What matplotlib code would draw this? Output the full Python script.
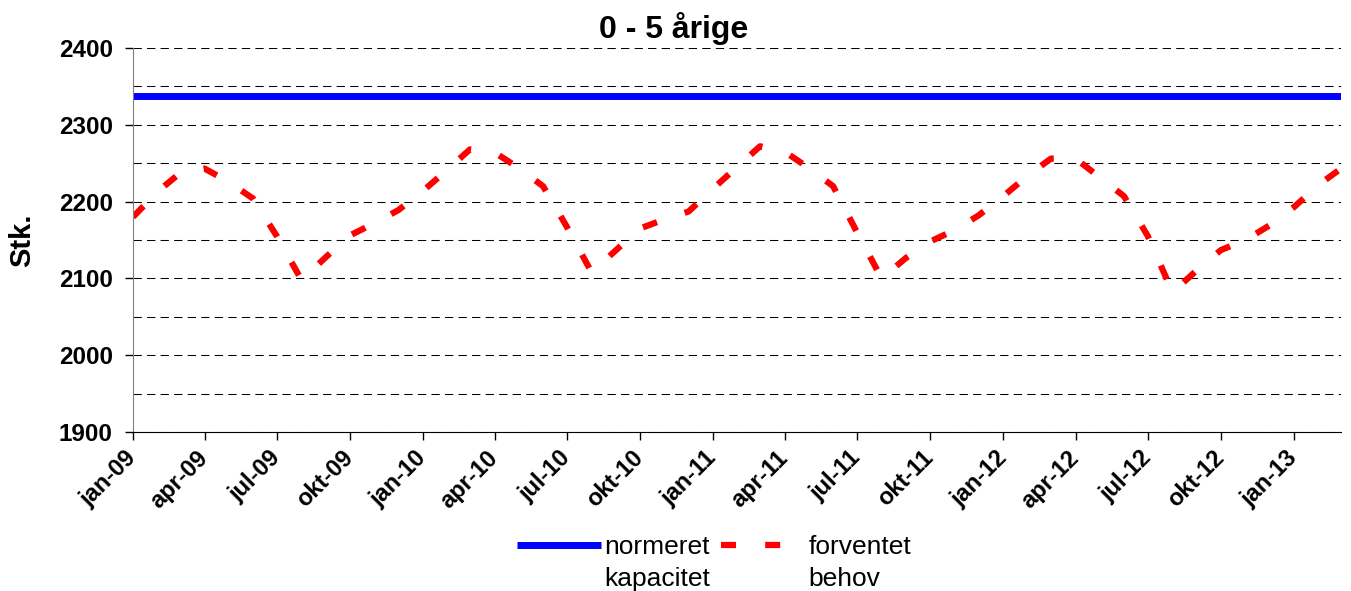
import matplotlib
matplotlib.use('Agg')
import matplotlib.pyplot as plt
import matplotlib.transforms as mtransforms
from matplotlib.ticker import MultipleLocator
import pandas as pd

plt.rcParams['font.family'] = ['Liberation Sans', 'DejaVu Sans']

# Data (monthly, jan-09 .. mar-13)
months = pd.date_range('2009-01-01', '2013-03-01', freq='MS')
forventet = [2180, 2213, 2237, 2243, 2226, 2204, 2155, 2098, 2128, 2156, 2172, 2189,
             2214, 2242, 2268, 2264, 2244, 2220, 2167, 2108, 2137, 2165, 2177, 2187,
             2217, 2246, 2272, 2265, 2244, 2220, 2160, 2100, 2127, 2148, 2163, 2182,
             2207, 2234, 2256, 2256, 2232, 2207, 2155, 2082, 2111, 2137, 2150, 2169,
             2193, 2222, 2243]
kapacitet = [2338] * len(months)

tick_dates = pd.date_range('2009-01-01', '2013-01-01', freq='3MS')
tick_labels = ['jan-09', 'apr-09', 'jul-09', 'okt-09', 'jan-10', 'apr-10', 'jul-10',
               'okt-10', 'jan-11', 'apr-11', 'jul-11', 'okt-11', 'jan-12', 'apr-12',
               'jul-12', 'okt-12', 'jan-13']
legend_lines = [('normeret', 'kapacitet'), ('forventet', 'behov')]

W, H = 1351, 591
fig = plt.figure(figsize=(W / 100, H / 100), dpi=100)
ax = fig.add_axes([133 / W, 1 - 432 / H, (1341 - 133) / W, 384 / H])

# grid lines every 50
ax.set_ylim(1900, 2400)
ax.yaxis.set_major_locator(MultipleLocator(100))
ax.yaxis.set_minor_locator(MultipleLocator(50))
ax.grid(True, axis='y', which='both', color='black', lw=0.75, ls=(0, (8, 5)))
ax.set_axisbelow(True)

ax.plot(months, kapacitet, color='#0000FF', lw=5, solid_capstyle='butt',
        label=legend_lines[0][0])
lw_r = 4.5
ax.plot(months, forventet, color='#FF0000', lw=lw_r, dash_capstyle='butt',
        ls=(0, (10.8 / lw_r, 21.0 / lw_r)), label=legend_lines[1][0])

ax.set_xlim(months[0], months[-1])
ax.set_xticks(tick_dates)
ax.set_xticklabels(tick_labels, rotation=45, ha='right', va='center',
                   rotation_mode='anchor', fontsize=17, fontweight='bold')
shift = mtransforms.ScaledTranslation(-8 / 100, 0, fig.dpi_scale_trans)
for lbl in ax.get_xticklabels():
    lbl.set_transform(lbl.get_transform() + shift)
for lbl in ax.get_yticklabels():
    lbl.set_fontsize(17.5)
    lbl.set_fontweight('bold')
ax.tick_params(axis='both', which='major', direction='out', length=6, width=1, color='black')
ax.tick_params(axis='x', pad=10)
ax.tick_params(axis='y', pad=8.5)
ax.tick_params(axis='y', which='minor', length=0)

for s in ['top', 'right']:
    ax.spines[s].set_visible(False)
ax.spines['left'].set_color('#808080')
ax.spines['bottom'].set_color('black')

fig.text(674 / W, 1 - 38 / H, '0 - 5 årige', ha='center', va='baseline',
         fontsize=23, fontweight='bold')
fig.text(22 / W, 1 - 240 / H, 'Stk.', rotation=90, ha='center', va='center',
         fontsize=21, fontweight='bold')

leg = fig.legend(loc='center', bbox_to_anchor=(714 / W, 1 - 547 / H), ncol=2,
                 frameon=False, fontsize=19, handlelength=3.2, handletextpad=0.1,
                 columnspacing=0.45, borderpad=0)

# second line of each legend label, placed under the first
fig.canvas.draw()
for t, (_, second) in zip(leg.get_texts(), legend_lines):
    bb = t.get_window_extent()
    fig.text(bb.x0 / W, (bb.y0 - 27) / H, second, ha='left', va='baseline', fontsize=19)

fig.savefig('out.png', dpi=100)
